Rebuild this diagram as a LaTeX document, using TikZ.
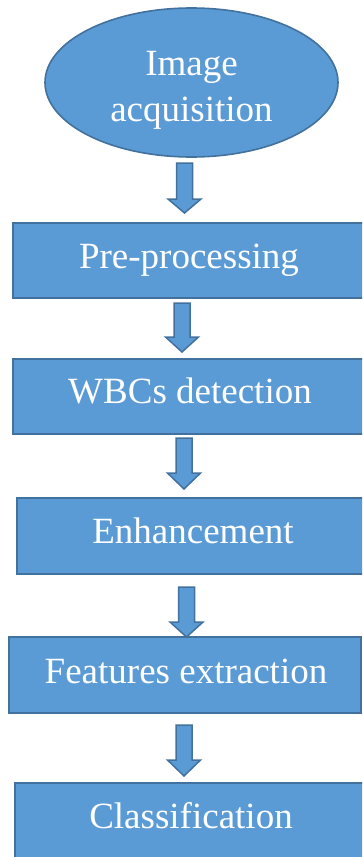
\documentclass[tikz,border=0pt]{standalone}
\usepackage{fontspec}
\setmainfont{Liberation Serif}
\usetikzlibrary{shapes.geometric}
\definecolor{boxfill}{RGB}{91,155,213}
\definecolor{boxline}{RGB}{65,113,156}
\tikzset{
  stepbox/.style={draw=boxline, fill=boxfill, line width=1.6pt, rectangle, minimum width=352pt, inner sep=0pt},
  ovalbox/.style={draw=boxline, fill=boxfill, line width=1.6pt, ellipse, minimum width=293pt, minimum height=149pt, inner sep=0pt},
  lbl/.style={text=white, font=\fontsize{37}{44}\selectfont, anchor=base, inner sep=0pt},
  blockarrow/.style={draw=boxline, fill=boxfill, line width=1.5pt, line join=miter}
}
\newcommand\downarrowblock[4]{%
  \filldraw[blockarrow] ({#1-8},#2) -- ({#1+8},#2) -- ({#1+8},#3) -- ({#1+16.5},#3) -- (#1,#4) -- ({#1-16.5},#3) -- ({#1-8},#3) -- cycle;}
\begin{document}
\begin{tikzpicture}[x=1pt,y=-1pt]
\path[use as bounding box] (0,0) rectangle (362,857);
\clip (0,0) rectangle (362,857);
% shapes
\node[ovalbox] (acq) at (191.5,82.5) {};
\node[stepbox, minimum height=75pt] (pre) at (189,260.5) {};
\node[stepbox, minimum height=75pt] (wbc) at (189,396.5) {};
\node[stepbox, minimum height=76pt] (enh) at (193,536) {};
\node[stepbox, minimum height=76pt] (fea) at (185,675) {};
\node[stepbox, minimum height=76pt] (cls) at (191,821) {};
% labels
\node[lbl] (tacq1) at (191.5,75) {Image};
\node[lbl] (tacq2) at (191.5,121) {acquisition};
\node[lbl] (tpre) at (189,268) {Pre-processing};
\node[lbl] (twbc) at (190,403) {WBCs detection};
\node[lbl] (tenh) at (193,543) {Enhancement};
\node[lbl] (tfea) at (186,683) {Features extraction};
\node[lbl] (tcls) at (191,828) {Classification};
% block arrows
\downarrowblock{184.5}{163}{199}{213}
\downarrowblock{182}{303}{337}{352}
\downarrowblock{184}{438}{473}{489}
\downarrowblock{186.5}{587}{622}{637}
\downarrowblock{184}{725}{760}{776}
\end{tikzpicture}
\end{document}
